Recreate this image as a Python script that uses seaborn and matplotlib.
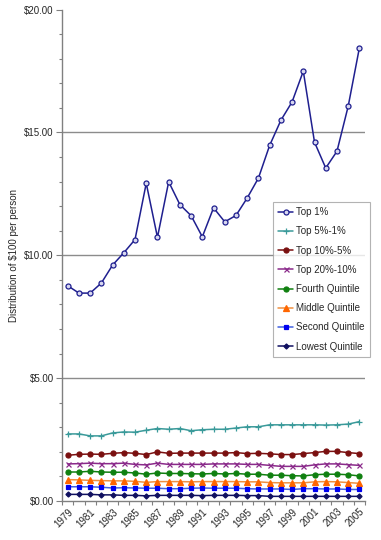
import matplotlib
matplotlib.use("Agg")
import matplotlib.pyplot as plt
import seaborn as sns
import numpy as np
from matplotlib.ticker import FixedLocator, FuncFormatter, MultipleLocator

# --- data ---
years = list(range(1979, 2006))

top_1 = [8.76, 8.46, 8.46, 8.87, 9.60, 10.10, 10.64, 12.93, 10.73, 12.99, 12.06,
         11.61, 10.75, 11.93, 11.36, 11.62, 12.33, 13.14, 14.47, 15.49, 16.24,
         17.49, 14.60, 13.55, 14.23, 16.06, 18.44]
top_5_1 = [2.73, 2.73, 2.65, 2.65, 2.77, 2.81, 2.80, 2.88, 2.95, 2.92, 2.95,
           2.86, 2.90, 2.92, 2.92, 2.97, 3.02, 3.02, 3.10, 3.10, 3.10, 3.10,
           3.10, 3.09, 3.10, 3.13, 3.23]
top_10_5 = [1.86, 1.90, 1.91, 1.90, 1.94, 1.97, 1.94, 1.89, 2.00, 1.94, 1.95,
            1.95, 1.95, 1.95, 1.95, 1.97, 1.93, 1.94, 1.92, 1.89, 1.89, 1.93,
            1.97, 2.02, 2.02, 1.97, 1.93]
top_20_10 = [1.51, 1.52, 1.54, 1.52, 1.52, 1.54, 1.49, 1.47, 1.54, 1.49, 1.49,
             1.49, 1.49, 1.51, 1.51, 1.51, 1.49, 1.49, 1.45, 1.41, 1.41, 1.41,
             1.47, 1.51, 1.51, 1.48, 1.45]
fourth_q = [1.18, 1.18, 1.21, 1.18, 1.17, 1.17, 1.14, 1.09, 1.14, 1.12, 1.12,
            1.11, 1.10, 1.12, 1.10, 1.12, 1.09, 1.09, 1.05, 1.05, 1.03, 1.02,
            1.07, 1.09, 1.09, 1.07, 1.02]
middle_q = [0.87, 0.86, 0.84, 0.83, 0.82, 0.82, 0.80, 0.76, 0.79, 0.79, 0.79,
            0.78, 0.79, 0.79, 0.79, 0.79, 0.78, 0.78, 0.75, 0.74, 0.74, 0.74,
            0.78, 0.79, 0.78, 0.75, 0.72]
second_q = [0.58, 0.58, 0.58, 0.56, 0.53, 0.54, 0.53, 0.52, 0.52, 0.50, 0.50,
            0.52, 0.53, 0.52, 0.52, 0.52, 0.50, 0.49, 0.49, 0.49, 0.47, 0.50,
            0.50, 0.49, 0.49, 0.47, 0.47]
lowest_q = [0.27, 0.27, 0.27, 0.25, 0.25, 0.23, 0.23, 0.21, 0.23, 0.23, 0.23,
            0.23, 0.22, 0.23, 0.23, 0.23, 0.22, 0.22, 0.19, 0.19, 0.19, 0.19,
            0.19, 0.19, 0.19, 0.19, 0.19]

series_names = ["Top 1%", "Top 5%-1%", "Top 10%-5%", "Top 20%-10%",
                "Fourth Quintile", "Middle Quintile", "Second Quintile",
                "Lowest Quintile"]
series_values = [top_1, top_5_1, top_10_5, top_20_10,
                 fourth_q, middle_q, second_q, lowest_q]

# style per series: line colour, marker, marker face, marker edge, marker size
styles = {
    "Top 1%":          ("#1F1F8F", "o", "#D8D8F0", "#1F1F8F", 3.6),
    "Top 5%-1%":       ("#3A9A9A", "+", "#3A9A9A", "#3A9A9A", 4.5),
    "Top 10%-5%":      ("#7A1010", "o", "#7A1010", "#7A1010", 3.6),
    "Top 20%-10%":     ("#8A2A8A", "x", "#8A2A8A", "#8A2A8A", 3.6),
    "Fourth Quintile": ("#108010", "o", "#108010", "#108010", 3.6),
    "Middle Quintile": ("#F09040", "^", "#FF6600", "#FF6600", 3.8),
    "Second Quintile": ("#4060E0", "s", "#0000F0", "#0000F0", 3.4),
    "Lowest Quintile": ("#101060", "D", "#101060", "#101060", 2.6),
}

sns.set_style("white")
plt.rcParams["font.family"] = ["Liberation Sans", "DejaVu Sans"]

fig = plt.figure(figsize=(3.81, 5.40), dpi=100)
ax = fig.add_axes([0.163, 0.0722, 0.795, 0.9102])

x_pos = np.arange(len(years))
for name, vals in zip(series_names, series_values):
    lc, mk, mfc, mec, ms = styles[name]
    sns.lineplot(x=x_pos, y=vals, ax=ax, color=lc, linewidth=1.1,
                 marker=mk, markersize=ms, markerfacecolor=mfc,
                 markeredgecolor=mec, markeredgewidth=0.9, label=name)

# axes limits and grid
ax.set_xlim(-0.5, len(years) - 0.5)
ax.set_ylim(0, 20)
for yv in [5, 10, 15]:
    ax.axhline(yv, color="#8C8C8C", linewidth=1.0, zorder=0)

# y ticks
ax.yaxis.set_major_locator(MultipleLocator(5))
ax.yaxis.set_minor_locator(MultipleLocator(1))
ax.yaxis.set_major_formatter(FuncFormatter(lambda v, p: f"${v:.2f}"))
ax.tick_params(axis="y", which="major", length=4, width=0.8, color="#808080",
               labelsize=7, pad=2, left=True)
ax.tick_params(axis="y", which="minor", length=2.5, width=0.8,
               color="#808080", left=True)

# x ticks: labels every other year at category centres, marks at boundaries
ax.xaxis.set_major_locator(FixedLocator(x_pos[::2]))
ax.set_xticklabels([str(y) for y in years[::2]])
ax.xaxis.set_minor_locator(FixedLocator(np.arange(-0.5, len(years), 1.0)))
ax.tick_params(axis="x", which="major", length=0, labelsize=7, pad=4)
ax.tick_params(axis="x", which="minor", length=3, width=0.8,
               color="#808080", bottom=True)
for lab in ax.get_xticklabels():
    lab.set_rotation(45)
    lab.set_ha("right")
    lab.set_rotation_mode("anchor")

for side in ["top", "right"]:
    ax.spines[side].set_visible(False)
for side in ["left", "bottom"]:
    ax.spines[side].set_color("#808080")
    ax.spines[side].set_linewidth(1.0)

ax.set_xlabel("")
ax.set_ylabel("Distribution of $100 per person", fontsize=7, labelpad=4)

leg = ax.legend(loc="upper left", bbox_to_anchor=(0.696, 0.608), fontsize=7,
                frameon=True, fancybox=False, edgecolor="#A0A0A0",
                handlelength=1.6, handletextpad=0.3, labelspacing=0.95,
                borderpad=0.5, borderaxespad=0)
leg.get_frame().set_linewidth(0.8)

fig.savefig("out.png", dpi=100)
